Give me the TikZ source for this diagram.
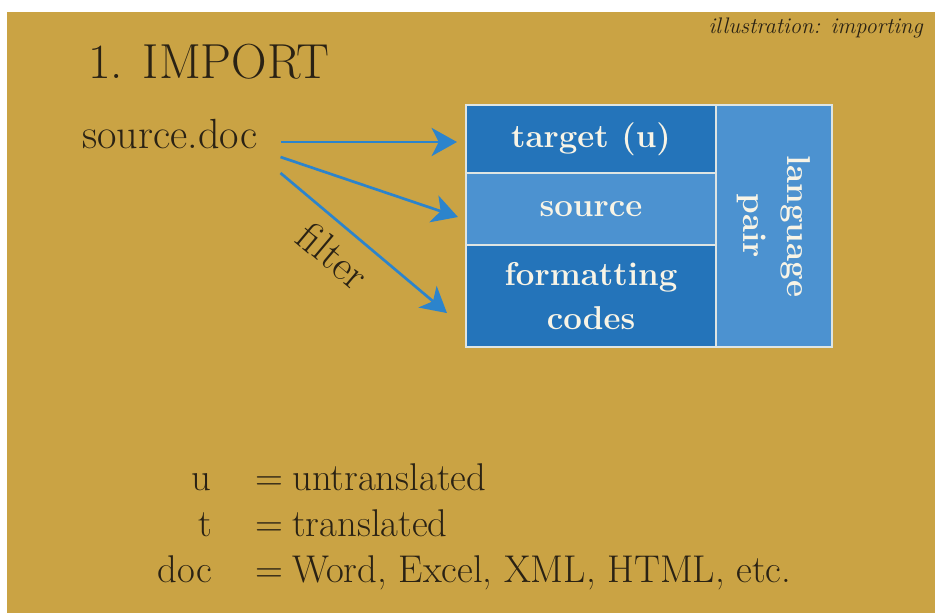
\documentclass[tikz,border=0pt]{standalone}
\usepackage{tikz}
\usetikzlibrary{positioning, calc, arrows.meta}

\definecolor{gold}{RGB}{202,163,68}
\definecolor{ink}{RGB}{42,34,20}
\definecolor{darkblue}{RGB}{36,116,186}
\definecolor{lightblue}{RGB}{76,146,208}
\definecolor{arrowblue}{RGB}{44,132,204}
\definecolor{cream}{RGB}{248,244,230}

\begin{document}
\begin{tikzpicture}[x=0.025cm, y=-0.025cm,
  cell/.style={draw=cream!85!lightblue, line width=1pt, outer sep=0pt, inner sep=0pt,
    text=cream, align=center, font=\fontsize{23.5}{31}\selectfont\bfseries},
  darkcell/.style={cell, fill=darkblue},
  lightcell/.style={cell, fill=lightblue},
  flow/.style={arrowblue, line width=1.9pt, -{Stealth[length=18pt, width=20pt, inset=5pt]}},
  txt/.style={text=ink, inner sep=0pt, font=\fontsize{27.5}{30}\selectfont}]

\useasboundingbox (0,0) rectangle (935,613);
\fill[white] (0,0) rectangle (935,613);
\fill[gold] (7,12) rectangle (935,613);

% headings
\node[txt, font=\fontsize{35}{38}\selectfont, anchor=base west] (title) at (88,78) {1. IMPORT};
\node[txt, font=\fontsize{16}{18}\selectfont\itshape, anchor=base east] (tag) at (923,33) {illustration: importing};

% the record
\node[darkcell, minimum width=6.25cm, minimum height=1.7cm] (tgt) at (591,139) {target (u)};
\node[lightcell, minimum width=6.25cm, minimum height=1.8cm, below=0pt of tgt] (src) {source};
\node[darkcell, minimum width=6.25cm, minimum height=2.55cm, below=0pt of src] (fmt) {formatting\\codes};
\node[lightcell, rotate=-90, minimum width=6.05cm, minimum height=2.9cm, anchor=south west] (pair) at (tgt.north east) {language\\pair};

% import arrows
\node[txt, font=\fontsize{30}{32}\selectfont, anchor=base west] (srcdoc) at (82,148) {source.doc};
\draw[flow] ($(srcdoc.base east)+(23,-6)$) -- ($(tgt.west)+(-9,3)$);
\draw[flow] ($(srcdoc.base east)+(23,9)$) -- ($(src.west)+(-8,8)$);
\draw[flow] ($(srcdoc.base east)+(23,25)$) -- node[txt, sloped, pos=0.43, below=9pt, font=\fontsize{30}{32}\selectfont] (flt) {filter} ($(fmt.west)+(-19,17)$);

% legend
\node[txt, anchor=base east] (ku) at (212,490) {u};
\node[txt, anchor=base west] (eu) at (255,490) {=};
\node[txt, anchor=base west] (vu) at (292,490) {untranslated};
\node[txt, anchor=base east] (kt) at (212,536) {t};
\node[txt, anchor=base west] (et) at (255,536) {=};
\node[txt, anchor=base west] (vt) at (292,536) {translated};
\node[txt, anchor=base east] (kd) at (212,582) {doc};
\node[txt, anchor=base west] (ed) at (255,582) {=};
\node[txt, anchor=base west] (vd) at (292,582) {Word, Excel, XML, HTML, etc.};
\end{tikzpicture}
\end{document}
